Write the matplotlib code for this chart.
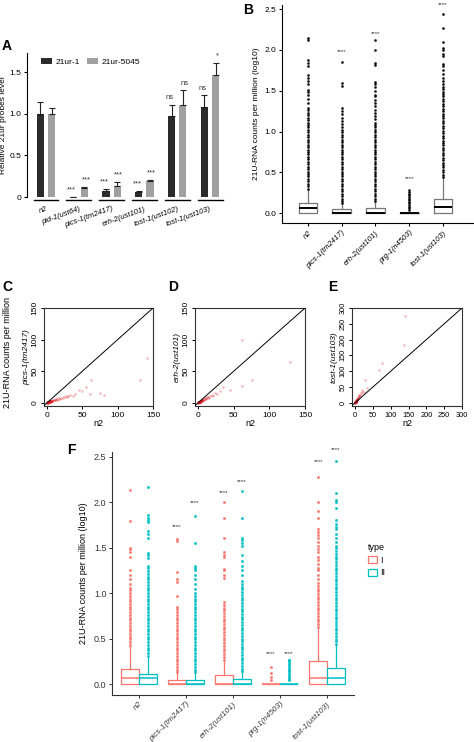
import matplotlib
matplotlib.use("Agg")
import matplotlib.pyplot as plt
from matplotlib.patches import Patch
import numpy as np

plt.rcParams['font.family'] = ['Liberation Sans', 'DejaVu Sans']

# ---------------- Panel A data ----------------
a_groups = ["n2", "pid-1(ust64)", "pics-1(tm2417)", "erh-2(ust101)", "tost-1(ust102)", "tost-1(ust103)"]
a_21ur1 = [1.00, 0.005, 0.07, 0.06, 0.97, 1.08]
a_21ur1_err = [0.14, 0.0, 0.03, 0.01, 0.14, 0.14]
a_21ur5045 = [1.00, 0.11, 0.13, 0.19, 1.11, 1.46]
a_21ur5045_err = [0.07, 0.01, 0.05, 0.02, 0.17, 0.15]
a_sig1 = ["", "***", "***", "***", "ns", "ns"]
a_sig2 = ["", "***", "***", "***", "ns", "*"]

# ---------------- Panel B data ----------------
b_groups = ["n2", "pics-1(tm2417)", "erh-2(ust101)", "prg-1(n4503)", "tost-1(ust103)"]
b_med = [0.065, 0.0, 0.0, 0.0, 0.07]
b_q1 = [0.0, 0.0, 0.0, 0.0, 0.0]
b_q3 = [0.12, 0.05, 0.06, 0.005, 0.18]
b_whishi = [0.28, 0.11, 0.14, 0.005, 0.43]
b_fl_n2 = [0.30, 0.33, 0.36, 0.39, 0.42, 0.45, 0.48, 0.51, 0.54, 0.57, 0.60, 0.63, 0.66, 0.69, 0.72,
           0.75, 0.78, 0.81, 0.84, 0.87, 0.90, 0.93, 0.96, 0.99, 1.02, 1.05, 1.08, 1.11, 1.14, 1.17,
           1.20, 1.23, 1.26, 1.29, 1.35, 1.40, 1.45, 1.48, 1.51, 1.58, 1.62, 1.66, 1.69, 1.80, 1.84,
           1.88, 2.12, 2.15]
b_fl_pics = [0.12, 0.15, 0.18, 0.21, 0.24, 0.27, 0.30, 0.33, 0.36, 0.39, 0.42, 0.45, 0.48, 0.51, 0.54,
             0.57, 0.60, 0.63, 0.66, 0.69, 0.72, 0.75, 0.78, 0.81, 0.84, 0.87, 0.90, 0.93, 0.96, 0.99,
             1.02, 1.05, 1.09, 1.13, 1.17, 1.21, 1.25, 1.29, 1.56, 1.59, 1.85]
b_fl_erh = [0.15, 0.18, 0.21, 0.24, 0.27, 0.30, 0.33, 0.36, 0.39, 0.42, 0.45, 0.48, 0.51, 0.54, 0.57,
            0.60, 0.63, 0.66, 0.69, 0.72, 0.75, 0.78, 0.81, 0.84, 0.87, 0.90, 0.93, 0.96, 0.99, 1.02,
            1.05, 1.08, 1.11, 1.15, 1.19, 1.23, 1.27, 1.31, 1.35, 1.39, 1.43, 1.45, 1.50, 1.55, 1.58,
            1.61, 1.82, 1.84, 2.00, 2.12]
b_fl_prg = [0.04, 0.06, 0.08, 0.10, 0.12, 0.14, 0.16, 0.18, 0.20, 0.22, 0.24, 0.26, 0.28]
b_fl_tost = [0.44, 0.47, 0.50, 0.53, 0.56, 0.59, 0.62, 0.65, 0.68, 0.71, 0.74, 0.77, 0.80, 0.83, 0.86,
             0.89, 0.92, 0.95, 0.98, 1.01, 1.04, 1.07, 1.10, 1.13, 1.16, 1.19, 1.22, 1.25, 1.28, 1.31,
             1.34, 1.37, 1.40, 1.43, 1.46, 1.49, 1.52, 1.55, 1.58, 1.62, 1.65, 1.70, 1.75, 1.80, 1.83,
             1.92, 1.95, 2.00, 2.02, 2.10, 2.27, 2.44]
b_sig = ["", "****", "****", "****", "****"]
b_sig_y = [0, 1.98, 2.20, 0.42, 2.56]

# ---------------- Panels C, D, E data ----------------
c_x = [0.2, 0.5, 0.8, 1.0, 1.2, 1.5, 1.8, 2.0, 2.3, 2.6, 3.0, 3.3, 3.6, 4.0, 4.5, 5.0, 5.5, 6.0, 6.5, 7.0,
       7.5, 8.0, 9.0, 10.0, 11.0, 12.0, 13.0, 14.0, 15.0, 17.0, 18.0, 20.0, 22.0, 24.0, 26.0, 28.0, 30.0,
       33.0, 36.0, 40.0, 45.0, 50.0, 55.0, 61.0, 62.0, 75.0, 80.0, 131.0, 141.0, 0.4, 1.1, 2.1, 3.1, 4.2,
       0.3, 0.6, 0.9, 1.4, 1.7, 2.2, 2.8, 3.4, 4.8, 5.8, 0.1, 0.7, 1.3, 1.9, 2.5]
c_y = [0.1, 0.2, 0.4, 0.5, 0.3, 0.8, 0.6, 1.0, 0.9, 1.3, 1.5, 1.2, 1.8, 2.0, 2.2, 2.5, 1.8, 3.0, 2.6, 3.2,
       2.8, 3.5, 4.0, 4.5, 3.8, 5.0, 5.5, 6.0, 5.0, 7.0, 6.5, 8.0, 7.0, 9.0, 10.0, 8.5, 11.0,
       12.0, 10.0, 14.0, 20.0, 18.0, 25.0, 13.0, 36.0, 16.0, 12.0, 36.0, 71.0, 0.3, 0.9, 1.6, 2.4, 3.0,
       0.2, 0.1, 0.6, 0.7, 1.1, 1.4, 1.0, 2.0, 1.9, 2.1, 0.05, 0.3, 0.5, 0.8, 1.2]
d_x = [0.2, 0.5, 0.8, 1.0, 1.2, 1.5, 1.8, 2.0, 2.3, 2.6, 3.0, 3.3, 3.6, 4.0, 4.5, 5.0, 5.5, 6.0, 6.5, 7.0,
       7.5, 8.0, 9.0, 10.0, 11.0, 12.0, 13.0, 14.0, 15.0, 17.0, 19.0, 21.0, 24.0, 27.0, 30.0, 35.0,
       45.0, 61.0, 61.0, 75.0, 129.0, 0.4, 1.1, 2.1, 3.1, 4.2,
       0.3, 0.6, 0.9, 1.4, 1.7, 2.2, 2.8, 3.4, 4.8, 5.8, 0.1, 0.7, 1.3, 1.9, 2.5]
d_y = [0.1, 0.3, 0.5, 0.7, 0.6, 1.0, 1.2, 1.4, 1.3, 1.8, 2.0, 2.2, 2.5, 2.8, 3.0, 3.5, 3.0, 4.0, 4.5, 5.0,
       4.2, 5.5, 6.0, 7.0, 6.5, 8.0, 8.5, 9.0, 7.5, 10.0, 12.0, 11.0, 15.0, 14.0, 18.0, 25.0,
       20.0, 27.0, 99.0, 36.0, 65.0, 0.3, 0.9, 1.7, 2.6, 3.4,
       0.2, 0.3, 0.7, 1.0, 1.4, 1.6, 1.5, 2.4, 2.9, 3.8, 0.05, 0.4, 0.8, 1.1, 1.5]
e_x = [0.2, 0.4, 0.6, 0.8, 1.0, 1.3, 1.6, 2.0, 2.4, 2.8, 3.2, 3.6, 4.0, 4.5, 5.0, 5.5, 6.0, 6.5, 7.0, 8.0,
       9.0, 10.0, 11.0, 12.0, 14.0, 15.0, 18.0, 20.0, 25.0, 28.0, 34.0, 67.0, 76.0, 136.0, 140.0,
       0.5, 1.5, 2.5, 3.5, 0.3, 0.9, 1.8, 3.0, 4.2, 5.2, 0.1, 0.7, 1.2]
e_y = [0.5, 0.9, 1.2, 1.8, 2.2, 2.6, 3.4, 4.0, 5.0, 5.5, 6.5, 7.0, 8.0, 9.0, 10.0, 12.0, 11.0, 14.0, 13.0, 16.0,
       18.0, 20.0, 22.0, 25.0, 24.0, 30.0, 35.0, 40.0, 35.0, 73.0, 47.0, 105.0, 126.0, 183.0, 274.0,
       1.5, 2.5, 4.5, 6.0, 0.4, 1.5, 3.0, 4.8, 7.0, 8.5, 0.2, 1.1, 2.0]

# ---------------- Panel F data ----------------
f_groups = ["n2", "pics-1(tm2417)", "erh-2(ust101)", "prg-1(n4503)", "tost-1(ust103)"]
f_types = ["I", "II"]
f_med_I = [0.065, 0.0, 0.0, 0.0, 0.065]
f_q3_I = [0.165, 0.05, 0.105, 0.005, 0.25]
f_whishi_I = [0.42, 0.12, 0.26, 0.005, 0.62]
f_med_II = [0.065, 0.0, 0.0, 0.0, 0.065]
f_q3_II = [0.115, 0.05, 0.06, 0.005, 0.175]
f_whishi_II = [0.29, 0.12, 0.14, 0.005, 0.43]
f_fl_I_n2 = [0.43, 0.46, 0.49, 0.52, 0.55, 0.58, 0.61, 0.64, 0.67, 0.70, 0.73, 0.76, 0.79, 0.82, 0.85,
             0.88, 0.91, 0.94, 0.97, 1.00, 1.03, 1.06, 1.10, 1.15, 1.20, 1.25, 1.40, 1.45, 1.48, 1.50,
             1.79, 2.13]
f_fl_II_n2 = [0.31, 0.34, 0.37, 0.40, 0.43, 0.46, 0.49, 0.52, 0.55, 0.58, 0.61, 0.64, 0.67, 0.70, 0.73,
              0.76, 0.79, 0.82, 0.85, 0.88, 0.91, 0.94, 0.97, 1.00, 1.03, 1.06, 1.09, 1.12, 1.15, 1.18,
              1.21, 1.24, 1.27, 1.30, 1.38, 1.42, 1.44, 1.60, 1.65, 1.68, 1.78, 1.80, 1.82, 1.86, 2.16]
f_fl_I_pics = [0.13, 0.16, 0.19, 0.22, 0.25, 0.28, 0.31, 0.34, 0.37, 0.40, 0.43, 0.46, 0.49, 0.52, 0.55,
               0.58, 0.61, 0.64, 0.67, 0.70, 0.73, 0.76, 0.79, 0.82, 0.85, 0.97, 1.12, 1.15, 1.23, 1.57,
               1.59]
f_fl_II_pics = [0.13, 0.16, 0.19, 0.22, 0.25, 0.28, 0.31, 0.34, 0.37, 0.40, 0.43, 0.46, 0.49, 0.52, 0.55,
                0.58, 0.61, 0.64, 0.67, 0.70, 0.73, 0.76, 0.79, 0.82, 0.85, 0.88, 0.91, 0.94, 0.97, 1.00,
                1.05, 1.10, 1.15, 1.20, 1.25, 1.28, 1.30, 1.55, 1.85]
f_fl_I_erh = [0.27, 0.30, 0.33, 0.36, 0.39, 0.42, 0.45, 0.48, 0.51, 0.54, 0.57, 0.60, 0.63, 0.66, 0.69,
              0.72, 0.75, 0.78, 0.81, 0.84, 0.87, 0.90, 1.17, 1.20, 1.25, 1.26, 1.40, 1.42, 1.45, 1.60,
              1.83, 2.00]
f_fl_II_erh = [0.14, 0.17, 0.20, 0.23, 0.26, 0.29, 0.32, 0.35, 0.38, 0.41, 0.44, 0.47, 0.50, 0.53, 0.56,
               0.59, 0.62, 0.65, 0.68, 0.71, 0.74, 0.77, 0.80, 0.83, 0.86, 0.89, 0.92, 0.95, 0.98, 1.01,
               1.04, 1.07, 1.10, 1.13, 1.20, 1.25, 1.30, 1.35, 1.42, 1.52, 1.55, 1.58, 1.60, 1.82, 2.12]
f_fl_I_prg = [0.04, 0.08, 0.12, 0.19]
f_fl_II_prg = [0.04, 0.06, 0.08, 0.10, 0.12, 0.14, 0.16, 0.18, 0.20, 0.22, 0.24, 0.26, 0.27]
f_fl_I_tost = [0.63, 0.66, 0.69, 0.72, 0.75, 0.78, 0.81, 0.84, 0.87, 0.90, 0.93, 0.96, 0.99, 1.02, 1.05,
               1.08, 1.11, 1.15, 1.20, 1.25, 1.28, 1.32, 1.36, 1.40, 1.45, 1.48, 1.52, 1.56, 1.60, 1.64,
               1.67, 1.70, 1.82, 1.90, 2.00, 2.28]
f_fl_II_tost = [0.44, 0.47, 0.50, 0.53, 0.56, 0.59, 0.62, 0.65, 0.68, 0.71, 0.74, 0.77, 0.80, 0.83, 0.86,
                0.89, 0.92, 0.95, 0.98, 1.01, 1.04, 1.07, 1.10, 1.13, 1.16, 1.19, 1.22, 1.25, 1.28, 1.31,
                1.34, 1.37, 1.40, 1.43, 1.46, 1.49, 1.52, 1.56, 1.60, 1.65, 1.70, 1.73, 1.76, 1.80, 1.93,
                2.00, 2.02, 2.10, 2.45]
f_sig_I = ["", "****", "****", "****", "****"]
f_sig_I_y = [0, 1.73, 2.10, 0.34, 2.45]
f_sig_II = ["", "****", "****", "****", "****"]
f_sig_II_y = [0, 2.00, 2.22, 0.34, 2.58]

RED = "#F8766D"
TEAL = "#00BFC4"

W, H = 474, 742
fig = plt.figure(figsize=(W / 100, H / 100), dpi=100)


def rect(l, t, r, b):
    return [l / W, 1 - b / H, (r - l) / W, (b - t) / H]


# ================= Panel A =================
axA = fig.add_axes(rect(27, 53, 233, 197))
xa = np.arange(len(a_groups))
off, bw = 0.17, 0.22
axA.bar(xa - off, a_21ur1, bw, color="#2b2b2b", label="21ur-1", zorder=2)
axA.bar(xa + off, a_21ur5045, bw, color="#a0a0a0", label="21ur-5045", zorder=2)
axA.errorbar(xa - off, a_21ur1, yerr=[np.zeros(len(xa)), a_21ur1_err], fmt="none",
             ecolor="#222222", elinewidth=0.8, capsize=2, capthick=0.8)
axA.errorbar(xa + off, a_21ur5045, yerr=[np.zeros(len(xa)), a_21ur5045_err], fmt="none",
             ecolor="#222222", elinewidth=0.8, capsize=2, capthick=0.8)
for i in range(len(xa)):
    if a_sig1[i]:
        axA.text(xa[i] - off - 0.05, a_21ur1[i] + a_21ur1_err[i] + 0.04, a_sig1[i],
                 ha="center", va="bottom", fontsize=5.5, color="#333333")
    if a_sig2[i]:
        axA.text(xa[i] + off + 0.05, a_21ur5045[i] + a_21ur5045_err[i] + 0.04, a_sig2[i],
                 ha="center", va="bottom", fontsize=5.5, color="#333333")
axA.set_xlim(-0.58, 5.7)
axA.set_ylim(0, 1.73)
axA.set_yticks([0, 0.5, 1.0, 1.5])
axA.set_yticklabels(["0", "0.5", "1.0", "1.5"])
axA.spines[["top", "right", "bottom"]].set_visible(False)
axA.spines["left"].set_linewidth(0.8)
axA.tick_params(axis="y", labelsize=6, length=2.5, width=0.8, pad=1.5)
axA.tick_params(axis="x", length=0, pad=6)
axA.set_xticks(xa)
axA.set_xticklabels(a_groups, rotation=20, ha="right", rotation_mode="anchor",
                    fontsize=5.5, style="italic")
for i in xa:
    axA.plot([i - 0.38, i + 0.38], [-0.035, -0.035], color="black", lw=1.0, clip_on=False)
axA.set_ylabel("Relative 21ur probes level", fontsize=6, labelpad=2)
axA.legend(loc="upper left", ncol=2, frameon=False, fontsize=6, handlelength=1.4,
           handleheight=0.8, columnspacing=0.8, handletextpad=0.4, bbox_to_anchor=(0.03, 1.02))
fig.text(2 / W, 1 - 46 / H, "A", fontsize=10, fontweight="bold", va="center")

# ================= Panel B =================
axB = fig.add_axes(rect(282, 5, 473, 223))
b_fliers = [b_fl_n2, b_fl_pics, b_fl_erh, b_fl_prg, b_fl_tost]
b_stats = []
for i in range(len(b_groups)):
    b_stats.append(dict(med=b_med[i], q1=b_q1[i], q3=b_q3[i], whislo=b_q1[i],
                        whishi=b_whishi[i], fliers=b_fliers[i], label=b_groups[i]))
xb = np.arange(len(b_groups))
axB.bxp(b_stats, positions=xb, widths=0.56, showcaps=False,
        boxprops=dict(color="#777777", lw=0.9),
        whiskerprops=dict(color="#777777", lw=0.9),
        medianprops=dict(color="black", lw=1.4),
        flierprops=dict(marker="o", markersize=1.5, markerfacecolor="black",
                        markeredgecolor="black", markeredgewidth=0.3, linestyle="none"))
for i in range(len(xb)):
    if b_sig[i]:
        axB.text(xb[i], b_sig_y[i], b_sig[i], ha="center", va="center", fontsize=4.5,
                 color="#333333", clip_on=False)
axB.set_xlim(-0.77, 4.89)
axB.set_ylim(-0.12, 2.55)
axB.set_yticks([0, 0.5, 1.0, 1.5, 2.0, 2.5])
axB.set_yticklabels(["0.0", "0.5", "1.0", "1.5", "2.0", "2.5"])
axB.spines[["top", "right"]].set_visible(False)
axB.spines[["left", "bottom"]].set_linewidth(0.8)
axB.tick_params(axis="y", labelsize=6, length=2.5, width=0.8, pad=1.5)
axB.tick_params(axis="x", length=2.5, width=0.8, pad=2)
axB.set_xticks(xb)
axB.set_xticklabels(b_groups, rotation=45, ha="right", rotation_mode="anchor",
                    fontsize=5.5, style="italic")
axB.set_ylabel("21U-RNA counts per million (log10)", fontsize=6, labelpad=3)
fig.text(243 / W, 1 - 10 / H, "B", fontsize=10, fontweight="bold", va="center")

# ================= Panels C, D, E =================
scatter_specs = [
    (rect(44, 308, 153, 406), c_x, c_y, 150, [0, 50, 100, 150], "pics-1(tm2417)", "C", 2),
    (rect(195, 308, 305, 406), d_x, d_y, 150, [0, 50, 100, 150], "erh-2(ust101)", "D", 168),
    (rect(352, 308, 462, 406), e_x, e_y, 300, [0, 50, 100, 150, 200, 250, 300], "tost-1(ust103)", "E", 328),
]
for pos, xs, ys, lim, ticks, ylab, letter, lx in scatter_specs:
    ax = fig.add_axes(pos)
    ax.scatter(xs, ys, s=3.5, color="#E0181B", alpha=0.3, linewidths=0, zorder=2)
    ax.axline((0, 0), slope=1, color="black", lw=0.7, zorder=3)
    ax.set_xlim(-lim * 0.03, lim)
    ax.set_ylim(-lim * 0.035, lim)
    ax.set_xticks(ticks)
    ax.set_yticks(ticks)
    ax.set_yticklabels([str(t) for t in ticks], rotation=90, va="center")
    for sp in ax.spines.values():
        sp.set_linewidth(0.8)
        sp.set_color("#333333")
    fs = 5.3 if lim > 150 else 6
    ax.tick_params(labelsize=fs, length=2.5, width=0.7, pad=1.5)
    ax.set_xlabel("n2", fontsize=6.5, labelpad=0.5)
    ax.set_ylabel(ylab, fontsize=6, style="italic", labelpad=1)
    fig.text(lx / W, 1 - 287 / H, letter, fontsize=10, fontweight="bold", va="center")
fig.text(8 / W, 1 - 352 / H, "21U-RNA counts per million", rotation=90, fontsize=6.5,
         ha="center", va="center")

# ================= Panel F =================
axF = fig.add_axes(rect(112, 452, 354, 695))
xf = np.arange(len(f_groups))
f_fl_I = [f_fl_I_n2, f_fl_I_pics, f_fl_I_erh, f_fl_I_prg, f_fl_I_tost]
f_fl_II = [f_fl_II_n2, f_fl_II_pics, f_fl_II_erh, f_fl_II_prg, f_fl_II_tost]
for meds, q3s, whis, fls, col, sgn, sig, sigy in [
        (f_med_I, f_q3_I, f_whishi_I, f_fl_I, RED, -1, f_sig_I, f_sig_I_y),
        (f_med_II, f_q3_II, f_whishi_II, f_fl_II, TEAL, 1, f_sig_II, f_sig_II_y)]:
    stats = [dict(med=meds[i], q1=0.0, q3=q3s[i], whislo=0.0, whishi=whis[i], fliers=fls[i])
             for i in range(len(f_groups))]
    axF.bxp(stats, positions=xf + sgn * 0.19, widths=0.375, showcaps=False, patch_artist=True,
            boxprops=dict(facecolor="white", edgecolor=col, lw=0.9),
            whiskerprops=dict(color=col, lw=0.9),
            medianprops=dict(color=col, lw=1.1),
            flierprops=dict(marker="o", markersize=1.7, markerfacecolor=col,
                            markeredgecolor=col, markeredgewidth=0.3, linestyle="none"))
    for i in range(len(xf)):
        if sig[i]:
            axF.text(xf[i] + sgn * 0.19, sigy[i], sig[i], ha="center", va="center",
                     fontsize=4.5, color="#333333", clip_on=False)
axF.set_xlim(-0.57, 4.57)
axF.set_ylim(-0.12, 2.55)
axF.set_yticks([0, 0.5, 1.0, 1.5, 2.0, 2.5])
axF.set_yticklabels(["0.0", "0.5", "1.0", "1.5", "2.0", "2.5"])
axF.spines[["top", "right"]].set_visible(False)
axF.spines[["left", "bottom"]].set_linewidth(0.8)
axF.spines[["left", "bottom"]].set_color("#333333")
axF.tick_params(axis="y", labelsize=6.5, length=2.5, width=0.7, pad=1.5, colors="#333333")
axF.tick_params(axis="x", length=2.5, width=0.7, pad=1.5, colors="#333333")
axF.set_xticks(xf)
axF.set_xticklabels(f_groups, rotation=45, ha="right", rotation_mode="anchor",
                    fontsize=5.8, style="italic")
axF.set_ylabel("21U-RNA counts per million (log10)", fontsize=6.5, labelpad=4)
handles = [Patch(facecolor="white", edgecolor=RED, lw=0.9, label=f_types[0]),
           Patch(facecolor="white", edgecolor=TEAL, lw=0.9, label=f_types[1])]
leg = fig.legend(handles=handles, title="type", loc="upper left",
                 bbox_to_anchor=(360 / W, 1 - 535 / H), frameon=False, fontsize=6.5,
                 title_fontsize=6.5, handlelength=1.0, handleheight=0.8, handletextpad=0.3,
                 labelspacing=0.4)
leg._legend_box.align = "left"
fig.text(67 / W, 1 - 450 / H, "F", fontsize=10, fontweight="bold", va="center")

fig.savefig("out.png", dpi=100)
